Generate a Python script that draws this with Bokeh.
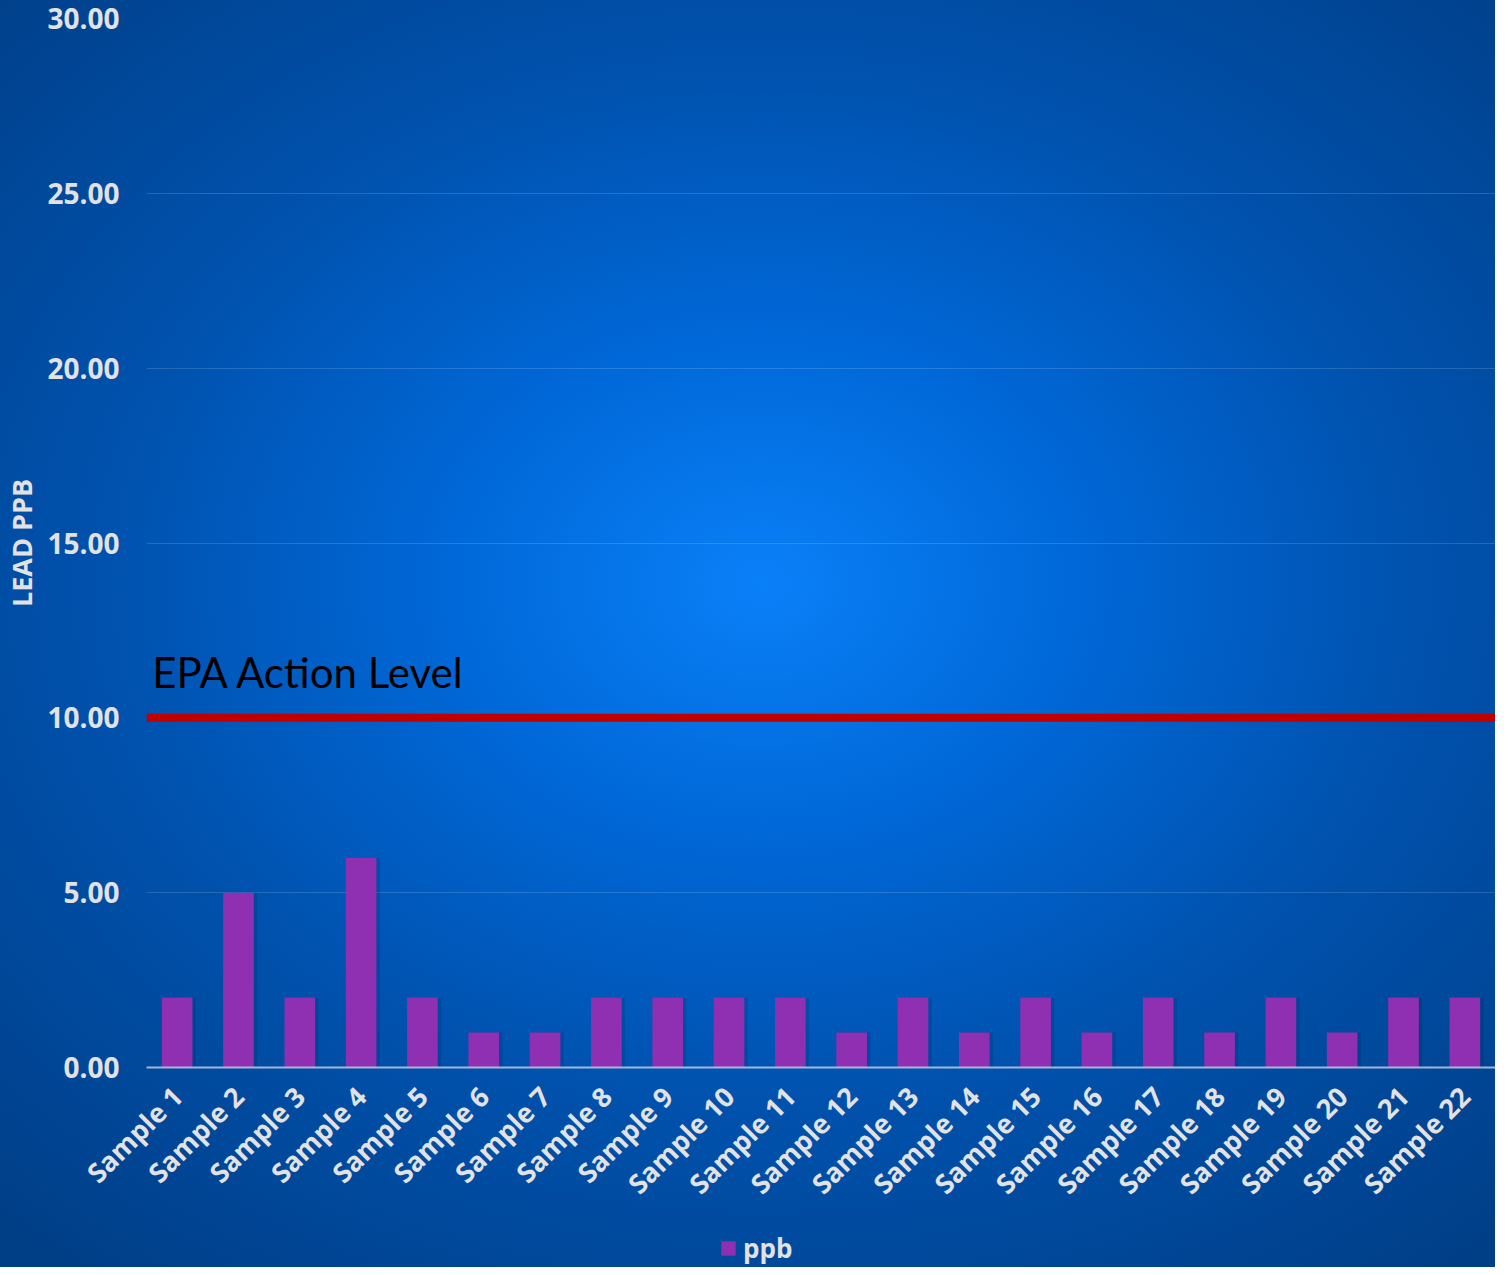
from bokeh.plotting import figure
from bokeh.layouts import column
from bokeh.models import (ColumnDataSource, FactorRange, Range1d, FixedTicker,
                          NumeralTickFormatter, Span, Legend, LegendItem)
from bokeh.core.properties import value
from bokeh.transform import dodge
from bokeh.embed import file_html
from bokeh.resources import INLINE
import math

categories = ["Sample 1", "Sample 2", "Sample 3", "Sample 4", "Sample 5", "Sample 6",
              "Sample 7", "Sample 8", "Sample 9", "Sample 10", "Sample 11", "Sample 12",
              "Sample 13", "Sample 14", "Sample 15", "Sample 16", "Sample 17", "Sample 18",
              "Sample 19", "Sample 20", "Sample 21", "Sample 22"]
ppb = [2, 5, 2, 6, 2, 1, 1, 2, 2, 2, 2, 1, 2, 1, 2, 1, 2, 1, 2, 1, 2, 2]
y_ticks = [0, 5, 10, 15, 20, 25, 30]
action_level = 10
action_label = ["EPA Action Level"]
series_name = "ppb"

FONT = "Open Sans"
LIGHT = "#e2e2e2"
BAR = "#8f2fb1"

src = ColumnDataSource(dict(cat=categories, ppb=ppb))

p = figure(width=1495, height=1229, output_backend="svg", toolbar_location=None,
           x_range=FactorRange(*categories, range_padding=0),
           y_range=Range1d(0, 30),
           min_border_left=146, min_border_right=0, min_border_top=18,
           min_border_bottom=162)

p.border_fill_color = None
p.background_fill_color = None
p.outline_line_color = None

# soft shadow then bars
p.vbar(x=dodge("cat", 0.04, range=p.x_range), top="ppb", width=0.53, source=src,
       fill_color="#001a40", fill_alpha=0.18, line_color=None)
bars = p.vbar(x="cat", top="ppb", width=0.5, source=src,
              fill_color=BAR, line_color=None)

# action level
p.add_layout(Span(location=action_level, dimension="width", line_color="#c00000",
                  line_width=8))
p.text(x=[categories[0]], y=[action_level], text=action_label, x_offset=-25, y_offset=-21,
       text_font=value("Lato"), text_font_size="42px", text_color="#000000",
       text_baseline="bottom", text_align="left")

# grid
p.xgrid.grid_line_color = None
p.ygrid.grid_line_color = "#ffffff"
p.ygrid.grid_line_alpha = 0.15
p.ygrid.grid_line_width = 1

# y axis
p.yaxis.ticker = FixedTicker(ticks=y_ticks)
p.yaxis.formatter = NumeralTickFormatter(format="0.00")
p.yaxis.axis_line_color = None
p.yaxis.major_tick_line_color = None
p.yaxis.minor_tick_line_color = None
p.yaxis.major_tick_out = 0
p.yaxis.major_tick_in = 0
p.yaxis.minor_tick_out = 0
p.yaxis.major_label_standoff = 27
p.yaxis.major_label_text_font = FONT
p.yaxis.major_label_text_font_style = "bold"
p.yaxis.major_label_text_font_size = "28px"
p.yaxis.major_label_text_color = LIGHT
p.yaxis.axis_label = "LEAD PPB"
p.yaxis.axis_label_text_font = FONT
p.yaxis.axis_label_text_font_style = "bold"
p.yaxis.axis_label_text_font_size = "27px"
p.yaxis.axis_label_text_color = LIGHT
p.yaxis.axis_label_standoff = 4

# x axis
p.xaxis.axis_line_color = "#c8d2e4"
p.xaxis.axis_line_alpha = 0.8
p.xaxis.axis_line_width = 2
p.xaxis.major_tick_line_color = None
p.xaxis.minor_tick_line_color = None
p.xaxis.major_tick_out = 0
p.xaxis.major_tick_in = 0
p.xaxis.minor_tick_out = 0
p.xaxis.major_label_orientation = math.pi / 4
p.xaxis.major_label_standoff = 24
p.xaxis.major_label_text_font = FONT
p.xaxis.major_label_text_font_style = "bold"
p.xaxis.major_label_text_font_size = "27px"
p.xaxis.major_label_text_color = LIGHT

# legend strip
lg = figure(width=1495, height=38, output_backend="svg", toolbar_location=None,
            x_range=Range1d(0, 1), y_range=Range1d(0, 1),
            x_axis_type=None, y_axis_type=None,
            min_border_left=0, min_border_right=0, min_border_top=0, min_border_bottom=0)
lg.border_fill_color = None
lg.background_fill_color = None
lg.outline_line_color = None
lg.grid.grid_line_color = None
key_src = ColumnDataSource(dict(x=[5.0], top=[0.0]))
key = lg.vbar(x="x", top="top", width=0.5, source=key_src, fill_color=BAR, line_color=None)
legend = Legend(items=[LegendItem(label=series_name, renderers=[key])],
                orientation="horizontal", location=(573, 1),
                background_fill_alpha=0, border_line_color=None,
                label_text_color=LIGHT, label_text_font=FONT,
                label_text_font_style="bold", label_text_font_size="26px",
                glyph_width=18, glyph_height=18, margin=0, padding=0,
                label_standoff=6)
lg.add_layout(legend, "center")

layout = column(p, lg, spacing=0)
layout.styles = {"background": "radial-gradient(ellipse 75% 70% at 51% 46%, #0a80f8 0%, #0068d8 28%, #0052ae 58%, #003e86 100%)"}

open("out.html", "w").write(file_html(layout, INLINE))
